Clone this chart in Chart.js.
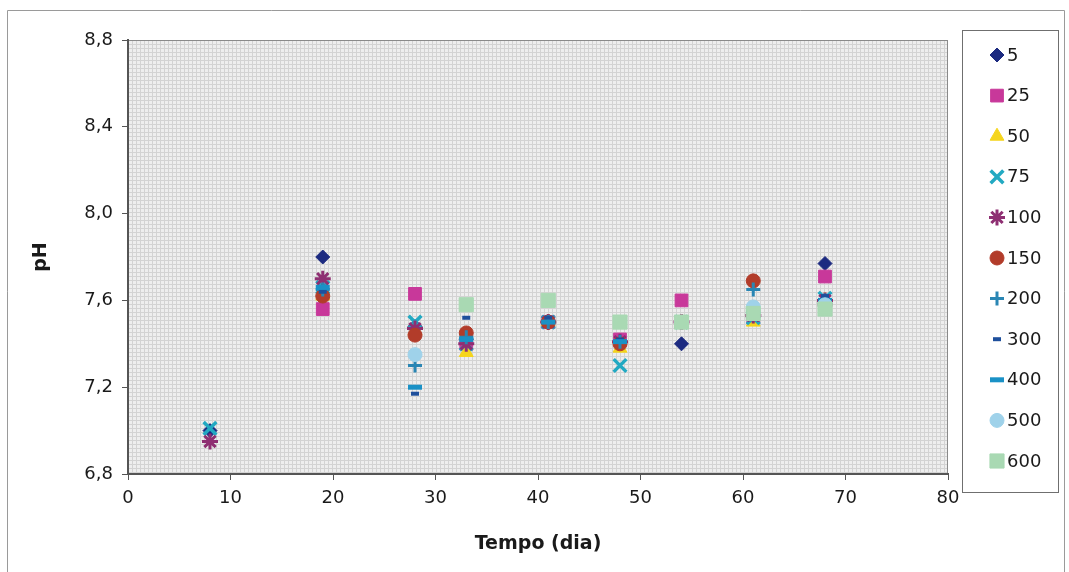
<!DOCTYPE html>
<html>
<head>
<meta charset="utf-8">
<script src="https://cdn.jsdelivr.net/npm/chart.js@4/dist/chart.umd.min.js"></script>
<style>
  html, body { margin: 0; padding: 0; background: #fff; }
  #wrap { position: relative; width: 1069px; height: 572px; }
</style>
</head>
<body>
<div id="wrap"><canvas id="phChart" width="1069" height="572"></canvas></div>
<script>
// dias de coleta
const dias = [8, 19, 28, 33, 41, 48, 54, 61, 68];

// pH por série (null = não visível)
const s5   = [7.00, 7.80, 7.48, 7.42, 7.50, 7.41, 7.40, 7.52, 7.77];
const s25  = [null, 7.56, 7.63, 7.40, 7.50, 7.42, 7.60, 7.52, 7.71];
const s50  = [null, 7.62, 7.46, 7.36, 7.50, 7.38, 7.50, 7.50, 7.60];
const s75  = [7.01, 7.66, 7.50, 7.40, 7.50, 7.30, 7.50, 7.52, 7.61];
const s100 = [6.95, 7.70, 7.47, 7.40, 7.50, 7.41, 7.50, 7.53, 7.60];
const s150 = [null, 7.62, 7.44, 7.45, 7.50, 7.40, 7.50, 7.69, 7.58];
const s200 = [null, 7.65, 7.30, 7.43, 7.50, 7.41, 7.50, 7.65, 7.60];
const s300 = [null, 7.64, 7.17, 7.52, 7.52, 7.42, 7.50, 7.55, 7.62];
const s400 = [null, 7.66, 7.20, 7.42, 7.50, 7.41, 7.50, 7.55, 7.60];
const s500 = [null, null, 7.35, null, null, null, 7.50, 7.57, 7.58];
const s600 = [null, null, null, 7.58, 7.60, 7.50, 7.50, 7.54, 7.56];

const nomes = ['5', '25', '50', '75', '100', '150', '200', '300', '400', '500', '600'];
const series = [s5, s25, s50, s75, s100, s150, s200, s300, s400, s500, s600];

const xTicks = [0, 10, 20, 30, 40, 50, 60, 70, 80];
const yTicks = [6.8, 7.2, 7.6, 8.0, 8.4, 8.8];

// estilo dos marcadores (parecido com o Excel)
const estilos = [
  { cor: '#1c2a80', ponto: 'rectRot',  raio: 7,  borda: 1 },
  { cor: '#c8389a', ponto: 'rect',     raio: 9,  borda: 1 },
  { cor: '#f5d51c', ponto: 'triangle', raio: 8,  borda: 1 },
  { cor: '#22a9c2', ponto: 'crossRot', raio: 9,  borda: 3.5 },
  { cor: '#8e2f72', ponto: 'star',     raio: 8,  borda: 3 },
  { cor: '#b23c2a', ponto: 'circle',   raio: 7,  borda: 1 },
  { cor: '#2a86b4', ponto: 'cross',    raio: 7,  borda: 3 },
  { cor: '#1e4f9c', ponto: 'line',     raio: 4,  borda: 4 },
  { cor: '#1a91c6', ponto: 'line',     raio: 7,  borda: 5 },
  { cor: '#9fd2ea', ponto: 'circle',   raio: 7,  borda: 1 },
  { cor: '#a9d9b3', ponto: 'rect',     raio: 10, borda: 1 },
];

const datasets = series.map((valores, i) => ({
  label: nomes[i],
  data: dias.map((d, j) => ({ x: d, y: valores[j] })).filter(p => p.y !== null),
  pointStyle: estilos[i].ponto,
  pointRadius: estilos[i].raio,
  pointHoverRadius: estilos[i].raio,
  pointBorderWidth: estilos[i].borda,
  borderColor: estilos[i].cor,
  backgroundColor: estilos[i].cor,
  showLine: false,
  order: series.length - i
}));

function criarTextura(ctx) {
  const c = document.createElement('canvas');
  c.width = 4; c.height = 4;
  const g = c.getContext('2d');
  g.fillStyle = '#eeeeee';
  g.fillRect(0, 0, 4, 4);
  g.fillStyle = '#d3d3d3';
  g.fillRect(0, 0, 4, 1);
  g.fillRect(0, 0, 1, 4);
  return ctx.createPattern(c, 'repeat');
}

const fundoPlot = {
  id: 'fundoPlot',
  beforeDraw(chart) {
    const { ctx, chartArea: a } = chart;
    ctx.save();
    // moldura externa
    ctx.strokeStyle = '#9a9a9a';
    ctx.lineWidth = 1;
    ctx.beginPath();
    ctx.moveTo(7.5, 580); ctx.lineTo(7.5, 10.5); ctx.lineTo(1064.5, 10.5); ctx.lineTo(1064.5, 580);
    ctx.stroke();
    ctx.fillStyle = criarTextura(ctx);
    ctx.fillRect(a.left, a.top, a.right - a.left, a.bottom - a.top);
    ctx.strokeStyle = '#8a8a8a';
    ctx.strokeRect(a.left + 0.5, a.top + 0.5, a.right - a.left - 1, a.bottom - a.top - 1);
    ctx.restore();
  }
};

const legenda = {
  id: 'legenda',
  afterDraw(chart) {
    const ctx = chart.ctx;
    ctx.save();
    ctx.strokeStyle = '#6f6f6f';
    ctx.lineWidth = 1;
    ctx.strokeRect(962.5, 30.5, 96, 462);
    ctx.font = '18px "DejaVu Sans"';
    ctx.textBaseline = 'middle';
    ctx.textAlign = 'left';
    chart.data.datasets.forEach((ds, i) => {
      const y = 55 + i * 40.6;
      const e = estilos[i];
      ctx.fillStyle = e.cor;
      ctx.strokeStyle = e.cor;
      ctx.lineWidth = e.borda;
      if (Chart.helpers && Chart.helpers.drawPoint) {
        Chart.helpers.drawPoint(ctx, { pointStyle: e.ponto, radius: e.raio, rotation: 0, borderWidth: e.borda }, 997, y);
      }
      ctx.fillStyle = '#1a1a1a';
      ctx.fillText(ds.label, 1007, y + 1);
    });
    ctx.restore();
  }
};

new Chart(document.getElementById('phChart'), {
  type: 'scatter',
  data: { datasets: datasets },
  options: {
    responsive: false,
    animation: false,
    events: [],
    layout: { padding: { left: 10, top: 40, right: 121, bottom: 0 } },
    plugins: {
      legend: { display: false },
      tooltip: { enabled: false }
    },
    scales: {
      x: {
        type: 'linear',
        min: 0,
        max: 80,
        afterFit(scale) { scale.height = 98; },
        afterBuildTicks(scale) { scale.ticks = xTicks.map(v => ({ value: v })); },
        ticks: {
          color: '#1a1a1a',
          padding: 8,
          font: { family: '"DejaVu Sans"', size: 18 }
        },
        grid: { display: true, drawOnChartArea: false, drawTicks: true, tickLength: 6, color: '#555' },
        border: { display: true, color: '#555', width: 2 },
        title: {
          display: true,
          text: 'Tempo (dia)',
          color: '#1a1a1a',
          font: { family: '"DejaVu Sans"', size: 19, weight: 'bold' },
          padding: { top: 4, bottom: 17 }
        }
      },
      y: {
        type: 'linear',
        min: 6.8,
        max: 8.8,
        afterFit(scale) { scale.width = 118; },
        afterBuildTicks(scale) { scale.ticks = yTicks.map(v => ({ value: v })); },
        ticks: {
          color: '#1a1a1a',
          padding: 9,
          font: { family: '"DejaVu Sans"', size: 18 },
          callback: v => v.toFixed(1).replace('.', ',')
        },
        grid: { display: true, drawOnChartArea: false, drawTicks: true, tickLength: 6, color: '#555' },
        border: { display: true, color: '#555', width: 2 },
        title: {
          display: true,
          text: 'pH',
          color: '#1a1a1a',
          font: { family: '"DejaVu Sans"', size: 19, weight: 'bold' },
          padding: { top: 20, bottom: 4 }
        }
      }
    }
  },
  plugins: [fundoPlot, legenda]
});
</script>
</body>
</html>
